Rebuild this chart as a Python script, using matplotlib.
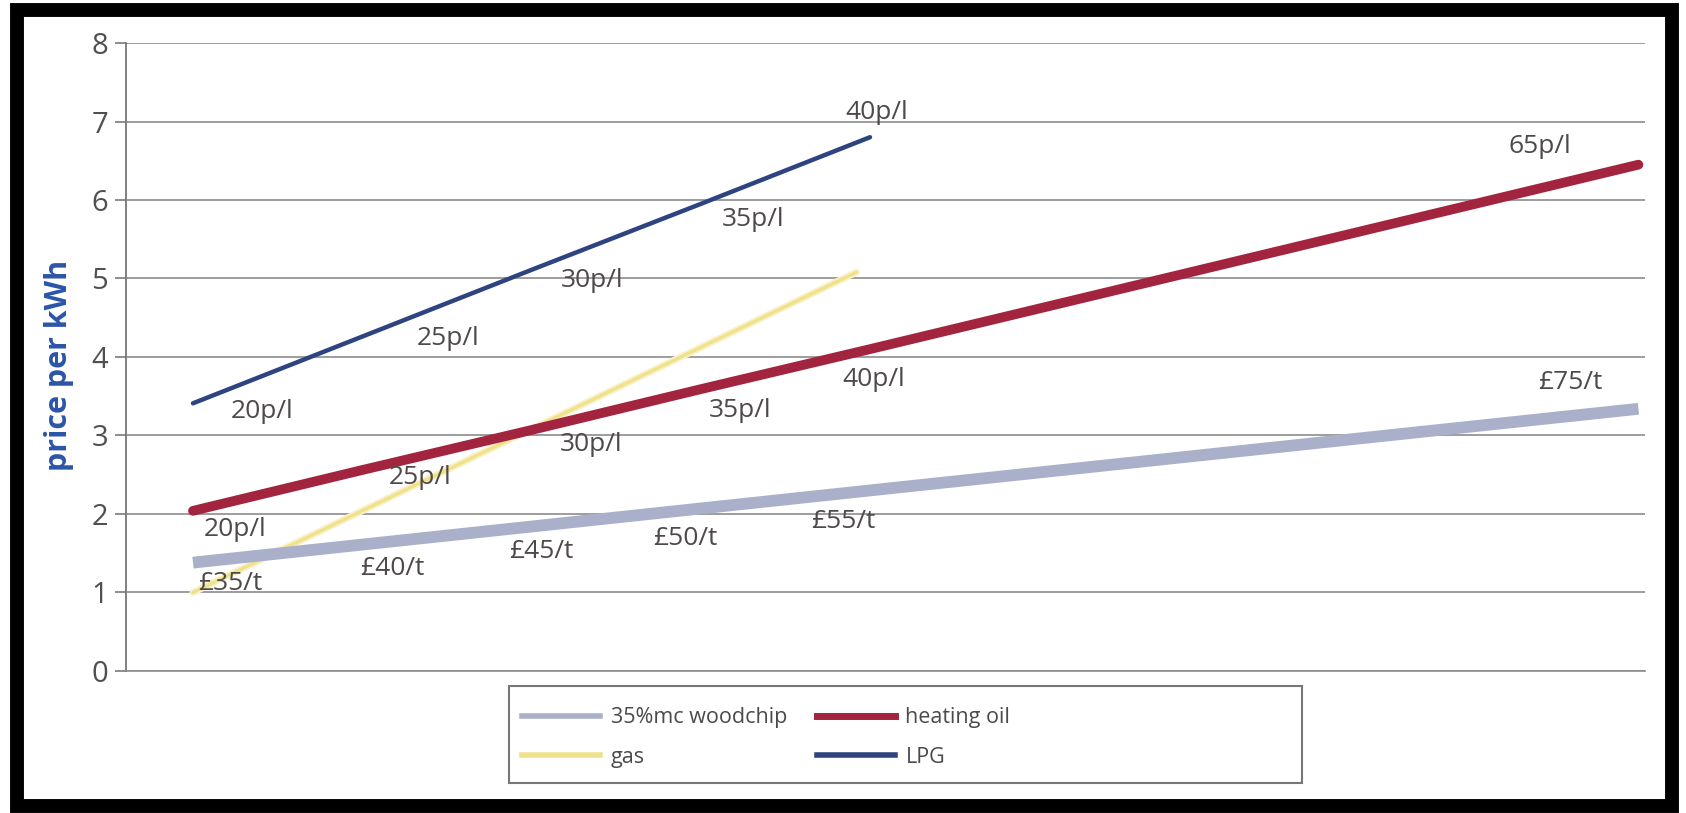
import matplotlib
matplotlib.use("Agg")
from matplotlib import pyplot as plt
from matplotlib.lines import Line2D
from matplotlib.patches import Rectangle

plt.rcParams['font.family'] = ['Open Sans', 'DejaVu Sans']

# line points (x = step along the price scale)
wood_x = [0, 1, 2, 3, 4, 8.54]
wood_y = [1.38, 1.61, 1.84, 2.07, 2.30, 3.34]
wood_lbl = ['£35/t', '£40/t', '£45/t', '£50/t', '£55/t', '£75/t']
wood_lx = [0.22, 1.18, 2.06, 2.91, 3.84, 8.14]
wood_ly = [1.12, 1.31, 1.52, 1.69, 1.90, 3.67]

oil_x = [0, 1, 2, 3, 4, 8.54]
oil_y = [2.04, 2.56, 3.07, 3.59, 4.10, 6.45]
oil_lbl = ['20p/l', '25p/l', '30p/l', '35p/l', '40p/l', '65p/l']
oil_lx = [0.25, 1.34, 2.35, 3.23, 4.02, 7.96]
oil_ly = [1.80, 2.47, 2.88, 3.32, 3.71, 6.68]

lpg_x = [0, 1, 2, 3, 4]
lpg_y = [3.41, 4.26, 5.11, 5.95, 6.80]
lpg_lbl = ['20p/l', '25p/l', '30p/l', '35p/l', '40p/l']
lpg_lx = [0.41, 1.51, 2.36, 3.31, 4.04]
lpg_ly = [3.30, 4.24, 4.98, 5.75, 7.11]

gas_x = [0, 3.92]
gas_y = [1.0, 5.08]

c_wood = '#aab0c9'
c_oil = '#a2243e'
c_lpg = '#2e4480'
c_gas = '#f0e28a'
c_txt = '#4f4a4a'

fig = plt.figure(figsize=(16.86, 8.13), dpi=100)
ax = fig.add_axes([0.0747, 0.1747, 0.901, 0.7724])

ax.plot(gas_x, gas_y, color='#f8f1c8', lw=5, solid_capstyle='round', zorder=2)
ax.plot(gas_x, gas_y, color=c_gas, lw=2.4, solid_capstyle='round', zorder=3)
ax.plot(wood_x, wood_y, color=c_wood, lw=8.5, solid_capstyle='butt', zorder=4)
ax.plot(oil_x, oil_y, color=c_oil, lw=7, solid_capstyle='round', zorder=5)
ax.plot(lpg_x, lpg_y, color=c_lpg, lw=3.2, solid_capstyle='round', zorder=6)

for lbls, lx, ly in [(wood_lbl, wood_lx, wood_ly), (oil_lbl, oil_lx, oil_ly),
                     (lpg_lbl, lpg_lx, lpg_ly)]:
    for t, x, y in zip(lbls, lx, ly):
        ax.text(x, y, t, fontsize=19, color=c_txt, ha='center', va='center', zorder=7)

ax.set_xlim(-0.396, 8.579)
ax.set_ylim(0, 8)
ax.set_yticks(range(0, 9))
ax.set_xticks([])
ax.tick_params(axis='y', length=8, width=1.2, color='#7a7a7a', labelsize=21,
               labelcolor='#505050', pad=5)
ax.grid(axis='y', color='#8c8c8c', lw=1.2)
ax.set_axisbelow(True)
for s in ['top', 'right']:
    ax.spines[s].set_visible(False)
ax.spines['left'].set_color('#777777')
ax.spines['left'].set_linewidth(1.3)
ax.spines['bottom'].set_color('#8c8c8c')
ax.spines['bottom'].set_linewidth(1.2)

fig.text(0.035, 0.55, 'price per kWh', rotation=90, fontsize=22, fontweight='bold',
         color='#2b55a8', ha='center', va='center')

# legend box
fig.patches.append(Rectangle((509 / 1686, 1 - 783 / 813), 793 / 1686, 97 / 813,
                             transform=fig.transFigure, fill=False,
                             edgecolor='#777777', lw=1.5))
handles = [Line2D([], [], color=c_wood, lw=4),
           Line2D([], [], color=c_gas, lw=4),
           Line2D([], [], color=c_oil, lw=5),
           Line2D([], [], color=c_lpg, lw=4)]
names = ['35%mc woodchip', 'gas', 'heating oil', 'LPG']
fig.legend(handles, names, loc='upper left', bbox_to_anchor=(503 / 1686, 1 - 688 / 813),
           ncol=2, frameon=False, fontsize=15.5, handlelength=3.6, handletextpad=0.5,
           columnspacing=1.4, labelspacing=0.85, labelcolor='#4a4a4a')

# black frame
fig.patches.append(Rectangle((17 / 1686, 7 / 813), 1655 / 1686, 796 / 813,
                             transform=fig.transFigure, fill=False,
                             edgecolor='black', lw=10))

fig.savefig('out.png', dpi=100)
